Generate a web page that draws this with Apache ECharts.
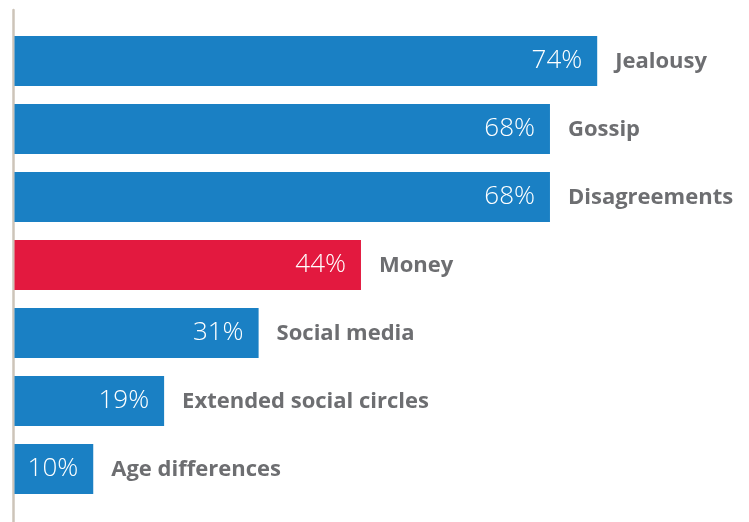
<!DOCTYPE html>
<html>
<head>
<meta charset="utf-8">
<script src="https://cdn.jsdelivr.net/npm/echarts@6/dist/echarts.min.js"></script>
<style>html,body{margin:0;padding:0;background:#fff}#c{width:749px;height:522px}</style>
</head>
<body>
<div id="c"></div>
<script>
const categories = ['Jealousy', 'Gossip', 'Disagreements', 'Money', 'Social media', 'Extended social circles', 'Age differences'];
const values = [74, 68, 68, 44, 31, 19, 10];
const highlighted = ['Money'];

const BLUE = '#1a80c4';
const RED = '#e3193f';
const GRAY = '#6d6e71';

const chart = echarts.init(document.getElementById('c'), null, {renderer: 'canvas'});
const barData = values.map((v, i) => ({
  value: v,
  itemStyle: {color: highlighted.includes(categories[i]) ? RED : BLUE}
}));

chart.setOption({
  animation: false,
  backgroundColor: '#fff',
  grid: [
    {left: 14.5, right: 25.8, top: 27, bottom: 19, containLabel: false},
    {left: 13, right: 0, top: 10, bottom: 0, containLabel: false}
  ],
  xAxis: [
    {type: 'value', gridIndex: 0, min: 0, max: 90, show: false},
    {type: 'value', gridIndex: 1, min: 0, max: 1, show: false}
  ],
  yAxis: [
    {type: 'category', gridIndex: 0, data: categories, inverse: true,
     axisLine: {show: false}, axisTick: {show: false}, axisLabel: {show: false}, splitLine: {show: false}},
    {type: 'value', gridIndex: 1, min: 0, max: 1,
     axisLine: {show: true, lineStyle: {color: '#cdc4b9', width: 2.5}},
     axisTick: {show: false}, axisLabel: {show: false}, splitLine: {show: false}}
  ],
  series: [
    {
      type: 'bar', xAxisIndex: 0, yAxisIndex: 0,
      data: barData, barWidth: 50,
      label: {
        show: true, position: 'insideRight', distance: 15,
        formatter: p => p.value + '%',
        color: '#fff', fontFamily: 'Open Sans', fontSize: 26, fontWeight: 300,
        offset: [0, 0]
      }
    },
    {
      type: 'bar', xAxisIndex: 0, yAxisIndex: 0,
      data: values, barWidth: 50, barGap: '-100%',
      itemStyle: {color: 'rgba(0,0,0,0)'},
      silent: true,
      label: {
        show: true, position: 'right', distance: 18,
        formatter: p => p.name,
        color: GRAY, fontFamily: 'Open Sans', fontSize: 22, fontWeight: 'bold',
        offset: [0, 1]
      }
    },
    {
      type: 'line', xAxisIndex: 1, yAxisIndex: 1, data: [], silent: true
    }
  ]
});
</script>
</body>
</html>
